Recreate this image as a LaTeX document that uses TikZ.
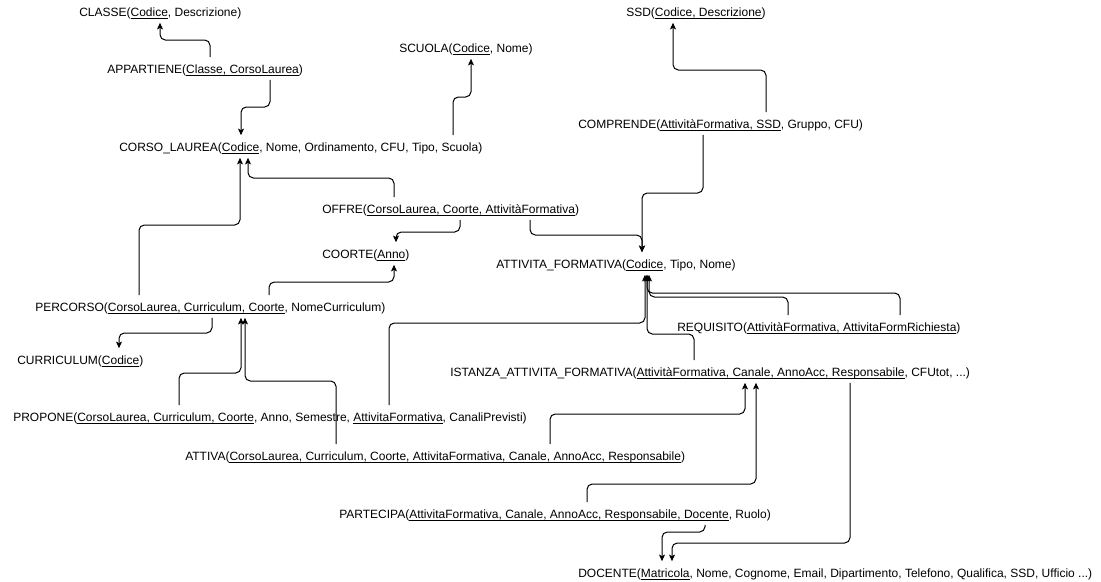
\documentclass[tikz,border=0pt]{standalone}
\usepackage{fontspec}
\setmainfont{Liberation Sans}
\usepackage{tikz}
\usetikzlibrary{arrows.meta}
\newcommand{\pk}[1]{\underline{\smash{#1}}}

\begin{document}
\begin{tikzpicture}[x=0.75pt, y=-0.75pt,
  rel/.style={anchor=base west, inner xsep=0pt, inner ysep=4.5pt, text height=7.5pt, text depth=0pt, font=\fontsize{9}{11}\selectfont},
  fk/.style={-{Stealth[length=5pt, width=4.5pt, inset=1.2pt]}, line width=0.75pt, rounded corners=4pt}]
\useasboundingbox (0,0) rectangle (1101,582);
\node[rel] (classe) at (79,16.5) {CLASSE(\pk{Codice}, Descrizione)};
\node[rel] (ssd) at (626,16.5) {SSD(\pk{Codice, Descrizione})};
\node[rel] (scuola) at (399,52.5) {SCUOLA(\pk{Codice}, Nome)};
\node[rel] (appartiene) at (107,73.5) {APPARTIENE(\pk{Classe, CorsoLaurea})};
\node[rel] (comprende) at (578,128.5) {COMPRENDE(\pk{AttivitàFormativa, SSD}, Gruppo, CFU)};
\node[rel] (corso) at (119,151.5) {CORSO\_LAUREA(\pk{Codice}, Nome, Ordinamento, CFU, Tipo, Scuola)};
\node[rel] (offre) at (322,213.5) {OFFRE(\pk{CorsoLaurea, Coorte, AttivitàFormativa})};
\node[rel] (coorte) at (322,258.5) {COORTE(\pk{Anno})};
\node[rel] (af) at (496,268.5) {ATTIVITA\_FORMATIVA(\pk{Codice}, Tipo, Nome)};
\node[rel] (percorso) at (35,311.5) {PERCORSO(\pk{CorsoLaurea, Curriculum, Coorte}, NomeCurriculum)};
\node[rel] (requisito) at (677,331.5) {REQUISITO(\pk{AttivitàFormativa, AttivitaFormRichiesta})};
\node[rel] (curriculum) at (17,364.5) {CURRICULUM(\pk{Codice})};
\node[rel] (istanza) at (450,376.5) {ISTANZA\_ATTIVITA\_FORMATIVA(\pk{AttivitàFormativa, Canale, AnnoAcc, Responsabile}, CFUtot, ...)};
\node[rel] (propone) at (13,421.5) {PROPONE(\pk{CorsoLaurea, Curriculum, Coorte}, Anno, Semestre, \pk{AttivitaFormativa}, CanaliPrevisti)};
\node[rel] (attiva) at (185,460.5) {ATTIVA(\pk{CorsoLaurea, Curriculum, Coorte, AttivitaFormativa, Canale, AnnoAcc, Responsabile})};
\node[rel] (partecipa) at (339,518.5) {PARTECIPA(\pk{AttivitaFormativa, Canale, AnnoAcc, Responsabile, Docente}, Ruolo)};
\node[rel] (docente) at (578,577.5) {DOCENTE(\pk{Matricola}, Nome, Cognome, Email, Dipartimento, Telefono, Qualifica, SSD, Ufficio ...)};

\draw[fk] (210,0 |- appartiene.north) |- (160,40) -- (160,0 |- classe.south);
\draw[fk] (270,0 |- appartiene.south) |- (241,107) -- (241,0 |- corso.north);
\draw[fk] (453,0 |- corso.north) |- (471,97) -- (471,0 |- scuola.south);
\draw[fk] (766,0 |- comprende.north) |- (673,70) -- (673,0 |- ssd.south);
\draw[fk] (703,0 |- comprende.south) |- (642,193) -- (642,0 |- af.north);
\draw[fk] (394,0 |- offre.north) |- (248,178) -- (248,0 |- corso.south);
\draw[fk] (139,0 |- percorso.north) |- (240,225) -- (240,0 |- corso.south);
\draw[fk] (460,0 |- offre.south) |- (396,232) -- (396,0 |- coorte.north);
\draw[fk] (530,0 |- offre.south) |- (642,235) -- (642,0 |- af.north);
\draw[fk] (269,0 |- percorso.north) |- (394,282) -- (394,0 |- coorte.south);
\draw[fk] (212,0 |- percorso.south) |- (119,333) -- (119,0 |- curriculum.north);
\draw[fk] (179,0 |- propone.north) |- (241,373) -- (241,0 |- percorso.south);
\draw[fk] (336,0 |- attiva.north) |- (245,381) -- (245,0 |- percorso.south);
\draw[fk] (389,0 |- propone.north) |- (645,323) -- (645,0 |- af.south);
\draw[fk] (694,0 |- istanza.north) |- (647,334) -- (647,0 |- af.south);
\draw[fk] (788,0 |- requisito.north) |- (649,297) -- (649,0 |- af.south);
\draw[fk] (900,0 |- requisito.north) |- (647,293) -- (647,0 |- af.south);
\draw[fk] (550,0 |- attiva.north) |- (745,414) -- (745,0 |- istanza.south);
\draw[fk] (587,0 |- partecipa.north) |- (756,484) -- (756,0 |- istanza.south);
\draw[fk] (705,0 |- partecipa.south) |- (662,532) -- (662,0 |- docente.north);
\draw[fk] (850,0 |- istanza.south) |- (672,543) -- (672,0 |- docente.north);
\end{tikzpicture}
\end{document}
